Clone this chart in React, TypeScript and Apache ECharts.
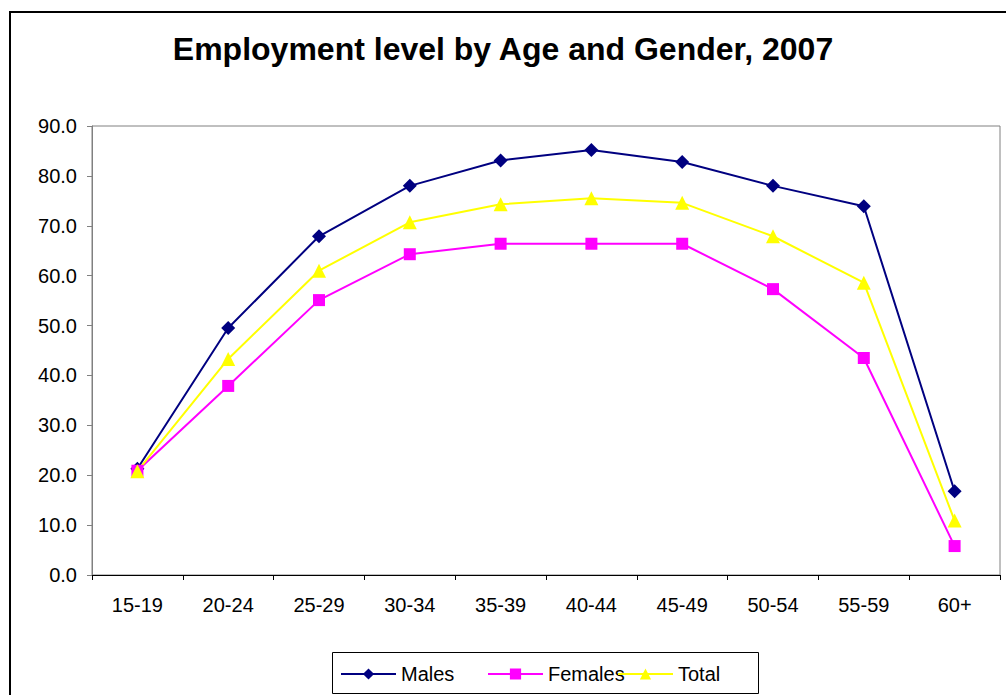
import React, { useEffect, useRef } from "react";
import * as echarts from "echarts";

const categories = ["15-19", "20-24", "25-29", "30-34", "35-39", "40-44", "45-49", "50-54", "55-59", "60+"];
const males = [21.3, 49.5, 67.9, 78.0, 83.1, 85.2, 82.8, 78.0, 73.9, 16.8];
const females = [20.9, 37.9, 55.1, 64.3, 66.4, 66.4, 66.4, 57.3, 43.5, 5.8];
const total = [20.8, 43.3, 61.0, 70.7, 74.3, 75.5, 74.6, 67.9, 58.6, 10.9];
const yTicks = { min: 0, max: 90, interval: 10 };

const FONT = "'Liberation Sans', Arial, sans-serif";

export default function App() {
  const ref = useRef<HTMLDivElement>(null);
  useEffect(() => {
    if (!ref.current) return;
    const chart = echarts.init(ref.current, null, { renderer: "svg" });
    const legendCommon = {
      orient: "horizontal",
      itemWidth: 55,
      itemHeight: 14,
      padding: 0,
      textStyle: { fontFamily: FONT, fontSize: 20, color: "#000" },
      selectedMode: false,
    };
    chart.setOption({
      animation: false,
      backgroundColor: "#fff",
      textStyle: { fontFamily: FONT },
      title: {
        text: "Employment level by Age and Gender, 2007",
        left: "center",
        top: 28,
        textStyle: { fontFamily: FONT, fontSize: 32, fontWeight: "bold", color: "#000" },
      },
      graphic: [
        {
          type: "rect",
          shape: { x: 10, y: 12, width: 1200, height: 900 },
          style: { fill: "none", stroke: "#000", lineWidth: 2 },
          silent: true,
          z: 0,
        },
        {
          type: "rect",
          shape: { x: 332.5, y: 652.5, width: 426, height: 41 },
          style: { fill: "#fff", stroke: "#000", lineWidth: 1 },
          silent: true,
          z: 0,
        },
      ],
      legend: [
        { ...legendCommon, data: ["Males"], left: 340, top: 664 },
        { ...legendCommon, data: ["Females"], left: 487, top: 664 },
        { ...legendCommon, data: ["Total"], left: 617, top: 664 },
      ],
      grid: {
        left: 92,
        right: 6,
        top: 126,
        bottom: 120,
        show: true,
        borderColor: "#808080",
        borderWidth: 1,
        backgroundColor: "transparent",
        containLabel: false,
      },
      xAxis: {
        type: "category",
        data: categories,
        boundaryGap: true,
        axisLine: { show: true, lineStyle: { color: "#000", width: 1 } },
        axisTick: { show: true, length: 5, inside: false, lineStyle: { color: "#000" } },
        axisLabel: { fontFamily: FONT, fontSize: 20, color: "#000", margin: 20 },
        splitLine: { show: false },
      },
      yAxis: {
        type: "value",
        min: yTicks.min,
        max: yTicks.max,
        interval: yTicks.interval,
        axisLine: { show: true, lineStyle: { color: "#808080", width: 1 } },
        axisTick: { show: true, length: 5, lineStyle: { color: "#808080" } },
        axisLabel: {
          fontFamily: FONT,
          fontSize: 20,
          color: "#000",
          margin: 15,
          formatter: (v: number) => v.toFixed(1),
        },
        splitLine: { show: false },
      },
      series: [
        {
          name: "Males",
          type: "line",
          data: males,
          symbol: "diamond",
          symbolSize: 14,
          color: "#000080",
          lineStyle: { color: "#000080", width: 2 },
          itemStyle: { color: "#000080" },
        },
        {
          name: "Females",
          type: "line",
          data: females,
          symbol: "rect",
          symbolSize: 12,
          color: "#FF00FF",
          lineStyle: { color: "#FF00FF", width: 2 },
          itemStyle: { color: "#FF00FF" },
        },
        {
          name: "Total",
          type: "line",
          data: total,
          symbol: "triangle",
          symbolSize: 14,
          color: "#FFFF00",
          lineStyle: { color: "#FFFF00", width: 2 },
          itemStyle: { color: "#FFFF00" },
        },
      ],
    });
    return () => chart.dispose();
  }, []);
  return (
    <div
      ref={ref}
      style={{ position: "absolute", left: 0, top: 0, width: 1006, height: 695 }}
    />
  );
}
